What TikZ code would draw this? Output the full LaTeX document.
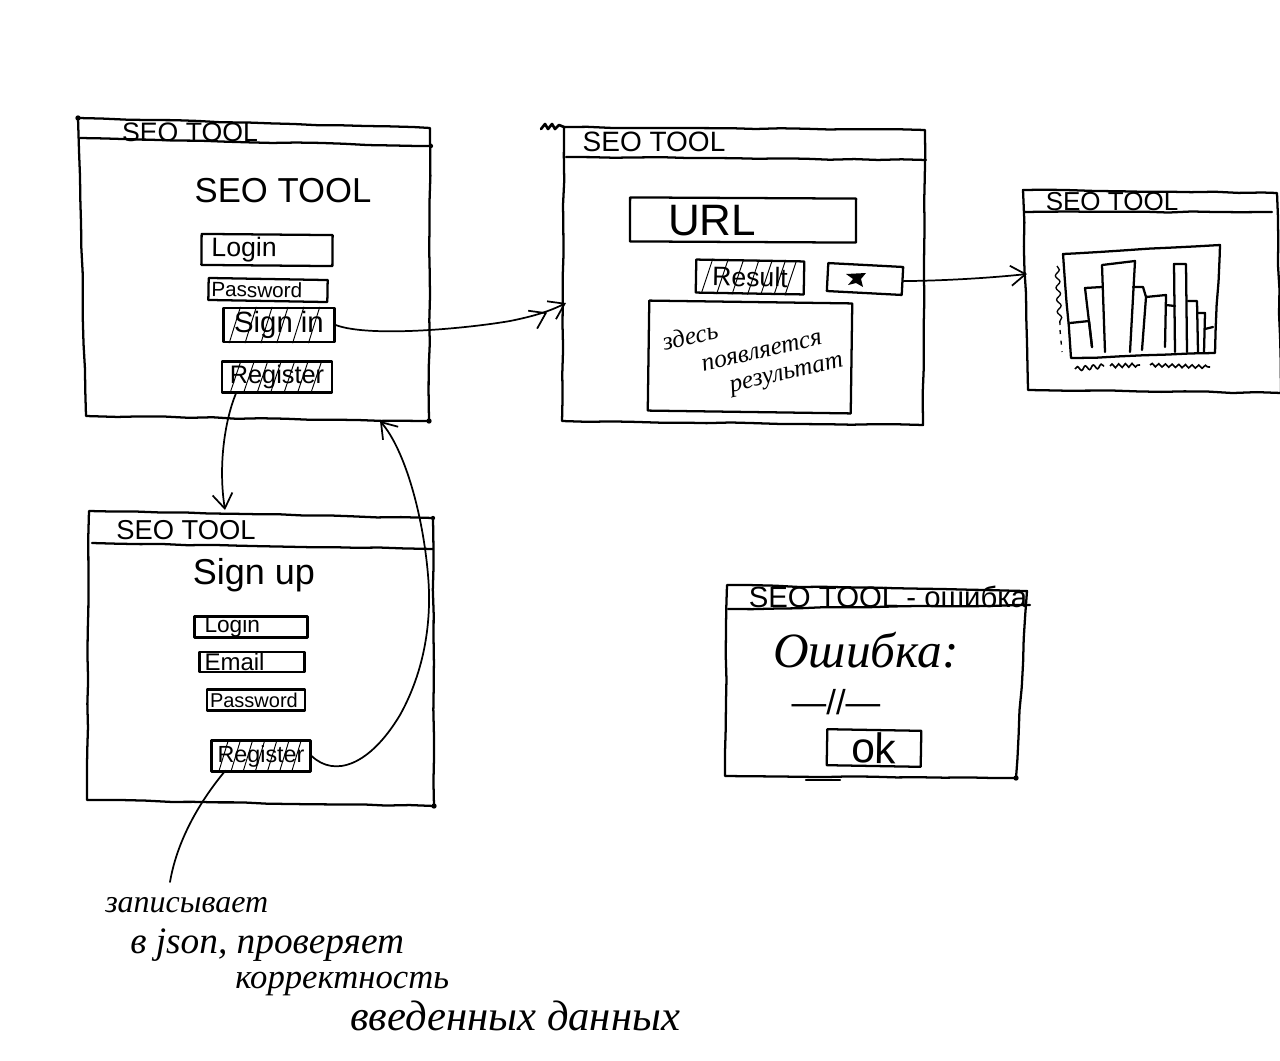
\documentclass[tikz,border=0pt]{standalone}
\usepackage{fontspec}
\setmainfont{Liberation Sans}
\newfontfamily\handf{Liberation Serif}
\usetikzlibrary{arrows.meta,calc,decorations.pathmorphing}
\pgfmathsetseed{7}
\tikzset{
  pen/.style={line width=1.7pt,black,line cap=round,line join=round},
  sketch/.style={pen,decorate,decoration={random steps,segment length=18pt,amplitude=0.45pt}},
  boxnode/.style 2 args={draw,pen,inner sep=0pt,minimum width=#1*0.75pt,minimum height=#2*0.75pt,align=center},
  inset/.style={align=left,text width=#1*0.75pt},
  labeltext/.style={inner sep=0pt,black},
  sized/.style={font=\fontsize{#1}{#1}\selectfont},
  script/.style={labeltext,font=\handf\itshape\fontsize{#1}{#1}\selectfont},
  conn/.style={line width=1.3pt,black,line cap=round,-{Straight Barb[length=11pt,width=15pt,line width=1.3pt]}},
  dblconn/.style={line width=1.3pt,black,line cap=round,-{Straight Barb[length=11pt,width=15pt,line width=1.3pt,sep=3pt]Straight Barb[length=11pt,width=15pt,line width=1.3pt]}},
  plainconn/.style={line width=1.3pt,black,line cap=round},
  hatchline/.style={line width=0.7pt,black}
}
\newcommand{\hatchbox}[2]{%
  \foreach \t in {#2}{%
    \draw[hatchline] ($(#1.south west)!\t!(#1.south east)$) -- ($(#1.north west)!\t+0.1!(#1.north east)$);
  }}
\begin{document}
\begin{tikzpicture}[x=0.75pt,y=-0.75pt]
\useasboundingbox (0,0) rectangle (1280,1060);
\fill[white] (0,0) rectangle (1280,1060);

% ---------- Window 1: login
\coordinate (aTL) at (78,118); \coordinate (aTR) at (430,128);
\coordinate (aBR) at (429,421); \coordinate (aBL) at (86,416);
\coordinate (aHL) at (80,138); \coordinate (aHR) at (431,146);
\draw[sketch] (aTL) -- (aTR) -- (aBR) -- (aBL) -- cycle;
\draw[sketch] (aHL) -- (aHR);
\fill (aTL) circle (2pt) (aBR) circle (2pt) (aHR) circle (1.6pt);
\node[labeltext,sized=20] (atitle) at (190,132) {SEO TOOL};
\node[labeltext,sized=26] (abig) at (283,191) {SEO TOOL};
\node[boxnode={131}{31},rotate=-0.5,sized=20,inset=111] (alogin) at (267,250) {Login};
\node[boxnode={119}{22},rotate=-1,sized=15.5,inset=113] (apass) at (268,290) {Password};
\node[boxnode={111}{34},sized=22] (asign) at (279,325) {Sign in};
\node[boxnode={110}{31},sized=19] (areg) at (277,377) {Register};
\hatchbox{asign}{0.06,0.2,0.34,0.48,0.62,0.76}
\hatchbox{areg}{0.08,0.2,0.32,0.44,0.56,0.68,0.8}

% ---------- Window 2: URL
\coordinate (bTL) at (564,127); \coordinate (bTR) at (925,130);
\coordinate (bBR) at (923,425); \coordinate (bBL) at (562,421);
\coordinate (bHL) at (566,157); \coordinate (bHR) at (926,160);
\coordinate (bIn) at (566,303);
\draw[sketch] (bTL) -- (bTR) -- (bBR) -- (bBL) -- cycle;
\draw[sketch] (bHL) -- (bHR);
\draw[pen,line width=2pt] (541,129) -- (545,124) -- (548,129) -- (552,124) -- (555,129) -- (559,125) -- (bTL);
\node[labeltext,sized=21] (btitle) at (654,142) {SEO TOOL};
\node[boxnode={226}{44},rotate=-0.3] (burl) at (743,220) {};
\node[labeltext,sized=33] (burltext) at (712,221) {URL};
\node[boxnode={108}{33},sized=20,rotate=-1] (bres) at (750,277) {Result};
\hatchbox{bres}{0.06,0.2,0.34,0.48,0.6,0.72,0.82}
\node[boxnode={75}{28},rotate=-3] (bicon) at (865,279) {};
\fill (846,274) -- (866,273) -- (861,279) -- (863,287) -- (856,283) -- (848,285) -- (853,279) -- cycle;
\node[boxnode={203}{110},rotate=-0.8] (bout) at (750,357) {};
\node[script={19}] (bt1) at (690,336) [rotate=13] {здесь};
\node[script={19}] (bt2) at (762,352) [rotate=13] {появляется};
\node[script={19}] (bt3) at (787,376) [rotate=13] {результат};

% ---------- Window 3: chart
\coordinate (cTL) at (1023,190); \coordinate (cTR) at (1277,193);
\coordinate (cBR) at (1281,393); \coordinate (cBL) at (1028,390);
\coordinate (cHL) at (1024,212); \coordinate (cHR) at (1272,212);
\coordinate (cIn) at (1027,274);
\draw[sketch] (cTL) -- (cTR) -- (cBR) -- (cBL) -- cycle;
\draw[sketch] (cHL) -- (cHR);
\node[labeltext,sized=19.5] (ctitle) at (1112,202) {SEO TOOL};
\coordinate (gA) at (1063,254); \coordinate (gB) at (1071,358);
\coordinate (gC) at (1215,353); \coordinate (gD) at (1220,245);
\draw[sketch] (gA) -- (gB) -- (gC) -- (gD) -- cycle;
\draw[pen] (1070,323) -- (1089,321) -- (1092,347);
\draw[pen] (1092,347) -- (1085,288) -- (1102,287);
\draw[pen] (1105,352) -- (1102,265) -- (1135,261) -- (1130,352);
\draw[pen] (1133,287) -- (1143,287) -- (1146,297) -- (1142,350);
\draw[pen] (1146,297) -- (1166,295) -- (1165,347);
\draw[pen] (1166,305) -- (1175,306);
\draw[pen] (1175,352) -- (1174,264) -- (1186,264) -- (1187,352);
\draw[pen] (1188,301) -- (1197,301) -- (1198,352);
\draw[pen] (1198,313) -- (1205,313) -- (1204,352);
\draw[pen] (1205,329) -- (1213,327);
% illegible axis scribbles
\draw[line width=1pt,decorate,decoration={snake,segment length=9pt,amplitude=1.6pt}] (1057,266) -- (1060,325);
\draw[line width=1pt,dash pattern=on 3pt off 5pt] (1060,330) -- (1062,352);
\draw[line width=1.2pt,decorate,decoration={snake,segment length=6pt,amplitude=1.6pt}] (1075,369) -- (1104,366);
\draw[line width=1.2pt,decorate,decoration={snake,segment length=5pt,amplitude=1.4pt}] (1110,366) -- (1140,365);
\draw[line width=1.2pt,decorate,decoration={snake,segment length=5pt,amplitude=1.2pt}] (1150,365) -- (1210,367);

% ---------- Window 4: sign up
\coordinate (dTL) at (89,511); \coordinate (dTR) at (433,518);
\coordinate (dBR) at (434,806); \coordinate (dBL) at (87,800);
\coordinate (dHL) at (92,543); \coordinate (dHR) at (433,549);
\draw[sketch] (dTL) -- (dTR) -- (dBR) -- (dBL) -- cycle;
\draw[sketch] (dHL) -- (dHR);
\fill (dBR) circle (2pt) (dTR) circle (1.6pt);
\node[labeltext,sized=20.5] (dtitle) at (186,530) {SEO TOOL};
\node[labeltext,sized=27] (dbig) at (254,575) {Sign up};
\node[boxnode={113}{20},sized=17,inset=93] (dlogin) at (251,627) {Login};
\node[boxnode={105}{20},sized=18,inset=95] (demail) at (252,662) {Email};
\node[boxnode={98}{21},sized=15,inset=92] (dpass) at (256,700) {Password};
\node[boxnode={99}{31},sized=17.5] (dreg) at (261,756) {Register};
\hatchbox{dreg}{0.08,0.2,0.32,0.44,0.56,0.68,0.8}

% ---------- Window 5: error
\coordinate (eTL) at (727,585); \coordinate (eTR) at (1027,591);
\coordinate (eBR) at (1016,778); \coordinate (eBL) at (725,776);
\coordinate (eHL) at (728,609); \coordinate (eHR) at (1030,605);
\draw[sketch] (eTL) -- (eTR) -- (eBR) -- (eBL) -- cycle;
\draw[sketch] (eHL) -- (eHR);
\fill (eBR) circle (2pt);
\draw[pen] (806,780) -- (840,780);
\node[labeltext,sized=22] (etitle) at (888,597) {SEO TOOL - ошибка};
\node[script={37}] (ebig) at (866,650) {Ошибка:};
\node[labeltext,sized=26] (eitem) at (836,702) {—//—};
\node[boxnode={94}{36},rotate=-1,sized=32] (eok) at (874,748) {ok};

% ---------- Note
\node[script={24},anchor=west] (n1) at (105,905) {записывает};
\node[script={28},anchor=west] (n2) at (130,945) {в json, проверяет};
\node[script={26},anchor=west] (n3) at (235,984) {корректность};
\node[script={32},anchor=west] (n4) at (350,1016) {введенных данных};

% ---------- Connectors
\coordinate (aIn) at (380,421);
\coordinate (dEntry) at (225,510);
\coordinate (noteTop) at (170,882);
\draw[dblconn] (asign.east) .. controls (370,338) and (470,328) .. (510,321) .. controls (535,316) and (550,311) .. (bIn);
\draw[conn] (bicon.east) .. controls (930,281) and (980,279) .. (cIn);
\draw[conn] (areg.south west) ++(15,0) .. controls (225,420) and (218,465) .. (dEntry);
\draw[conn] (dreg.east) .. controls (335,778) and (370,765) .. (400,715) .. controls (425,670) and (432,620) .. (428,575) .. controls (423,515) and (405,450) .. (aIn);
\draw[plainconn] (dreg.south west) ++(15,-2) .. controls (205,795) and (178,835) .. (noteTop);
\end{tikzpicture}
\end{document}
